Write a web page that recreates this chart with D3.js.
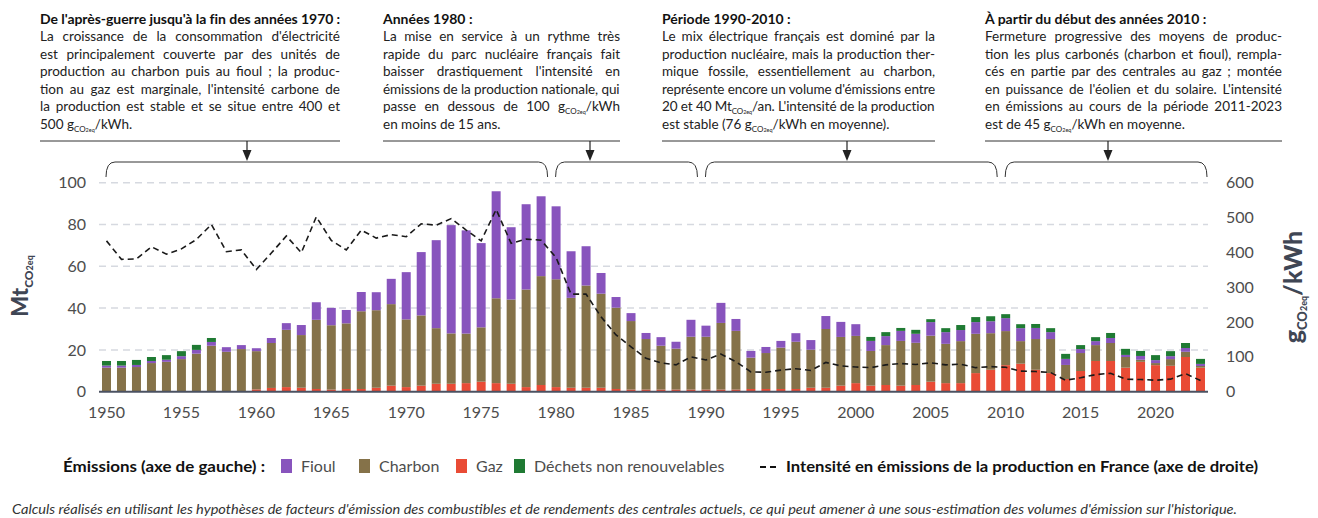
<!DOCTYPE html>
<html>
<head>
<meta charset="utf-8">
<script src="https://cdn.jsdelivr.net/npm/d3@7"></script>
<style>
  body { margin: 0; background: #fff; }
  svg { display: block; font-family: Lato, "Noto Sans", sans-serif; }
</style>
</head>
<body>
<div id="chart-area"></div>
<script>
// Emissions du parc électrique français (Mt CO2eq) et intensité (g CO2eq/kWh)
var annees = d3.range(1950, 2024);

var gaz = [0,0,0,0,0,0,0,0,0,0.3,1.1,1.8,2.2,1.9,1.3,
  1.0,1.3,1.3,1.9,2.9,2.2,2.9,3.8,3.8,4.1,4.8,4.1,3.8,2.2,3.2,
  2.2,1.9,1.9,1.9,1.3,1.0,1.0,1.0,1.0,1.0,1.0,1.0,1.0,1.3,1.3,
  1.3,1.3,1.9,1.9,2.9,4.1,2.9,3.2,2.9,3.2,4.8,4.1,4.1,8.9,10.5,
  12.7,13.4,10.5,8.9,6.1,9.9,14.7,14.7,11.5,14.3,12.7,12.4,16.6,11.5];

var charbon = [11.5,11.5,11.8,13.7,14.3,15.6,18.2,22.0,19.1,20.1,18.3,21.5,27.4,25.2,33.1,
  30.8,31.4,37.2,37.1,39.0,32.4,33.6,26.6,24.1,23.7,26.0,40.6,40.3,46.7,52.1,
  51.6,43.0,48.9,45.0,38.9,32.8,24.2,21.0,19.6,25.3,25.3,31.9,28.1,15.0,17.2,
  19.8,22.6,18.2,28.1,23.3,22.6,16.6,19.1,21.4,20.2,22.0,18.8,20.1,18.8,17.5,
  16.3,10.8,14.7,16.3,6.7,8.6,7.6,8.6,5.1,1.0,1.0,3.2,2.5,0.8];

var fioul = [1.0,1.0,1.0,1.0,1.0,1.4,1.8,1.8,2.2,1.9,1.4,2.4,3.2,4.8,8.4,
  8.3,6.4,9.2,8.6,12.1,22.6,30.3,42.1,51.8,49.4,40.3,51.2,34.6,40.8,38.2,
  34.9,22.3,18.8,9.9,5.1,3.8,2.9,4.1,3.3,8.1,5.3,9.6,5.7,3.2,2.9,
  3.2,4.1,4.6,6.2,7.2,5.6,4.8,4.3,4.8,4.3,6.5,5.6,5.3,5.6,5.7,
  6.2,6.2,5.3,3.3,2.9,1.9,1.9,2.4,1.0,1.8,1.4,1.4,1.8,1.0];

var dechets = [2.2,2.2,2.4,1.9,2.2,2.4,2.4,1.9,0,0,0,0,0,0,0,
  0,0,0,0,0,0,0,0,0,0,0,0,0,0,0,
  0,0,0,0,0,0,0,0,0,0,0,0,0,0,0,
  0,0,0,0,0,0,1.9,1.9,1.4,1.9,1.4,1.9,2.4,2.4,2.4,
  1.9,1.9,1.9,1.9,2.4,1.9,1.9,2.4,2.9,2.4,2.4,2.4,2.4,2.4];

var intensite = [433,380,381,416,395,410,437,480,402,407,351,398,447,399,502,
  434,407,464,441,451,445,482,478,497,464,433,523,426,438,435,
  385,280,280,215,163,129,96,83,77,100,91,108,86,57,56,
  62,66,61,84,74,71,69,77,81,78,83,77,79,69,72,
  70,59,58,55,33,40,49,53,36,35,33,36,52,32];

var ticksGauche = [0, 20, 40, 60, 80, 100];
var ticksDroite = [0, 100, 200, 300, 400, 500, 600];
var ticksAnnees = [1950, 1955, 1960, 1965, 1970, 1975, 1980, 1985, 1990, 1995, 2000, 2005, 2010, 2015, 2020];

var series = ["gaz", "charbon", "fioul", "dechets"];
var couleurs = { gaz: "#e94b35", charbon: "#857249", fioul: "#8854bd", dechets: "#1f7a33" };

var blocs = [
  { x: 40, w: 300, fleche: 247, debut: 1950, fin: 1979,
    titre: "De l'après-guerre jusqu'à la fin des années 1970 :",
    lignes: ["La croissance de la consommation d'électricité",
             "est principalement couverte par des unités de",
             "production au charbon puis au fioul ; la produc-",
             "tion au gaz est marginale, l'intensité carbone de",
             "la production est stable et se situe entre 400 et",
             "500 g{}/kWh."] },
  { x: 383, w: 237, fleche: 590, debut: 1980, fin: 1989,
    titre: "Années 1980 :",
    lignes: ["La mise en service à un rythme très",
             "rapide du parc nucléaire français fait",
             "baisser drastiquement l'intensité en",
             "émissions de la production nationale, qui",
             "passe en dessous de 100 g{}/kWh",
             "en moins de 15 ans."] },
  { x: 662, w: 273, fleche: 847, debut: 1990, fin: 2009,
    titre: "Période 1990-2010 :",
    lignes: ["Le mix électrique français est dominé par la",
             "production nucléaire, mais la production ther-",
             "mique fossile, essentiellement au charbon,",
             "représente encore un volume d'émissions entre",
             "20 et 40 Mt{}/an. L'intensité de la production",
             "est stable (76 g{}/kWh en moyenne)."] },
  { x: 985, w: 297, fleche: 1108, debut: 2010, fin: 2023,
    titre: "À partir du début des années 2010 :",
    lignes: ["Fermeture progressive des moyens de produc-",
             "tion les plus carbonés (charbon et fioul), rempla-",
             "cés en partie par des centrales au gaz ; montée",
             "en puissance de l'éolien et du solaire. L'intensité",
             "en émissions au cours de la période 2011-2023",
             "est de 45 g{}/kWh en moyenne."] }
];

var width = 1318, height = 518;

var svg = d3.select("#chart-area")
  .append("svg")
    .attr("width", width)
    .attr("height", height);

var x = d3.scaleBand()
  .domain(annees)
  .range([99, 1208])
  .paddingInner(0.4)
  .paddingOuter(0.2);

var yL = d3.scaleLinear().domain([0, 100]).range([391.7, 182.7]);
var yR = d3.scaleLinear().domain([0, 600]).range([391.7, 182.7]);

// grille
svg.append("g")
  .selectAll("line")
  .data(ticksGauche.slice(1))
  .enter().append("line")
    .attr("x1", 99).attr("x2", 1208)
    .attr("y1", function(d) { return yL(d); })
    .attr("y2", function(d) { return yL(d); })
    .attr("stroke", "#d6d9e0")
    .attr("stroke-width", 1.5)
    .attr("stroke-dasharray", "7,5");

// barres empilées
var table = annees.map(function(a, i) {
  return { annee: a, gaz: gaz[i], charbon: charbon[i], fioul: fioul[i], dechets: dechets[i] };
});
var empile = d3.stack().keys(series)(table);

svg.append("g")
  .selectAll("g")
  .data(empile)
  .enter().append("g")
    .attr("fill", function(d) { return couleurs[d.key]; })
  .selectAll("rect")
  .data(function(d) { return d; })
  .enter().append("rect")
    .attr("x", function(d) { return x(d.data.annee); })
    .attr("width", x.bandwidth())
    .attr("y", function(d) { return yL(d[1]); })
    .attr("height", function(d) { return yL(d[0]) - yL(d[1]); });

// ligne de base
svg.append("line")
  .attr("x1", 99).attr("x2", 1208)
  .attr("y1", yL(0)).attr("y2", yL(0))
  .attr("stroke", "#4b5262")
  .attr("stroke-width", 2);

// intensité
var ligneIntensite = d3.line()
  .x(function(d, i) { return x(annees[i]) + x.bandwidth() / 2; })
  .y(function(d) { return yR(d); });

svg.append("path")
  .datum(intensite)
  .attr("d", ligneIntensite)
  .attr("fill", "none")
  .attr("stroke", "#1a1a1a")
  .attr("stroke-width", 1.6)
  .attr("stroke-dasharray", "6,4");

// axes
function styleAxe(g) {
  g.select(".domain").remove();
  g.selectAll("text")
    .attr("font-family", "Lato, sans-serif")
    .attr("font-size", "16px")
    .attr("fill", "#4d4d4d");
}

svg.append("g")
  .attr("transform", "translate(0," + yL(0) + ")")
  .call(d3.axisBottom(x).tickValues(ticksAnnees).tickSize(0).tickPadding(15))
  .call(styleAxe);

svg.append("g")
  .attr("transform", "translate(99,0)")
  .call(d3.axisLeft(yL).tickValues(ticksGauche).tickSize(0).tickPadding(13))
  .call(styleAxe);

svg.append("g")
  .attr("transform", "translate(1208,0)")
  .call(d3.axisRight(yR).tickValues(ticksDroite).tickSize(0).tickPadding(18))
  .call(styleAxe);

// titres des axes
var tg = svg.append("text")
  .attr("transform", "translate(28,286) rotate(-90)")
  .attr("text-anchor", "middle")
  .attr("font-weight", "900")
  .attr("font-size", "22px")
  .attr("fill", "#3f4654");
tg.append("tspan").text("Mt");
tg.append("tspan").attr("dy", 5).attr("font-size", "12px").text("CO");
tg.append("tspan").attr("font-size", "9px").text("2eq");

var td = svg.append("text")
  .attr("transform", "translate(1302,287) rotate(-90)")
  .attr("text-anchor", "middle")
  .attr("font-weight", "900")
  .attr("font-size", "25px")
  .attr("fill", "#3f4654");
td.append("tspan").text("g");
td.append("tspan").attr("dy", 5).attr("font-size", "13px").text("CO");
td.append("tspan").attr("font-size", "9px").text("2eq");
td.append("tspan").attr("dy", -5).text("/kWh");

// annotations
function ligneTexte(g, txt, xx, yy, w, justifier) {
  var t = g.append("text")
    .attr("x", xx).attr("y", yy)
    .attr("font-size", "13.5px")
    .attr("fill", "#222");
  var morceaux = txt.split("{}");
  morceaux.forEach(function(m, k) {
    var s = t.append("tspan").text(m);
    if (k > 0) s.attr("dy", -3);
    if (k < morceaux.length - 1) {
      t.append("tspan").attr("dy", 3).attr("font-size", "8px").text("CO");
      t.append("tspan").attr("font-size", "5.5px").text("2eq");
    }
  });
  var len = t.node().getComputedTextLength();
  var espaces = txt.split(" ").length - 1;
  if (len > w) {
    t.attr("letter-spacing", (w - len) / txt.length);
  } else if (justifier && espaces > 0) {
    t.attr("word-spacing", (w - len) / espaces);
  }
  return t;
}

var annot = svg.append("g");
blocs.forEach(function(b) {
  var g = annot.append("g");
  var tt = g.append("text")
    .attr("x", b.x).attr("y", 24)
    .attr("font-size", "14px")
    .attr("font-weight", "bold")
    .attr("fill", "#111")
    .text(b.titre);
  var lt = tt.node().getComputedTextLength();
  if (lt > b.w) tt.attr("letter-spacing", (b.w - lt) / b.titre.length);

  b.lignes.forEach(function(l, i) {
    ligneTexte(g, l, b.x, 41 + i * 17.6, b.w, i < b.lignes.length - 1);
  });

  g.append("line")
    .attr("x1", b.x).attr("x2", b.x + b.w)
    .attr("y1", 141).attr("y2", 141)
    .attr("stroke", "#333").attr("stroke-width", 1);

  g.append("line")
    .attr("x1", b.fleche).attr("x2", b.fleche)
    .attr("y1", 141).attr("y2", 152)
    .attr("stroke", "#222").attr("stroke-width", 1.2);
  g.append("path")
    .attr("d", "M" + (b.fleche - 4.5) + ",150 L" + (b.fleche + 4.5) + ",150 L" + b.fleche + ",161 Z")
    .attr("fill", "#222");

  var x1 = x(b.debut) + 4, x2 = x(b.fin) + x.bandwidth() + 2, r = 9;
  g.append("path")
    .attr("d", "M" + x1 + ",177 Q" + x1 + ",162 " + (x1 + r) + ",162 L" + (x2 - r) + ",162 Q" + x2 + ",162 " + x2 + ",177")
    .attr("fill", "none")
    .attr("stroke", "#333")
    .attr("stroke-width", 1);
});

// légende
var leg = svg.append("g").attr("font-size", "16px");
leg.append("text")
  .attr("x", 63).attr("y", 472)
  .attr("font-weight", "bold").attr("fill", "#111")
  .attr("textLength", 202).attr("lengthAdjust", "spacingAndGlyphs")
  .text("Émissions (axe de gauche) :");

var legItems = [
  { cle: "fioul", nom: "Fioul", x: 281 },
  { cle: "charbon", nom: "Charbon", x: 359 },
  { cle: "gaz", nom: "Gaz", x: 456 },
  { cle: "dechets", nom: "Déchets non renouvelables", x: 514 }
];
legItems.forEach(function(d) {
  leg.append("rect")
    .attr("x", d.x).attr("y", 459)
    .attr("width", 11).attr("height", 14)
    .attr("fill", couleurs[d.cle]);
  leg.append("text")
    .attr("x", d.x + 20).attr("y", 472)
    .attr("fill", "#4d4d4d")
    .text(d.nom);
});

leg.append("line")
  .attr("x1", 760).attr("x2", 777)
  .attr("y1", 467).attr("y2", 467)
  .attr("stroke", "#111").attr("stroke-width", 2)
  .attr("stroke-dasharray", "6,4");

leg.append("text")
  .attr("x", 786).attr("y", 472)
  .attr("font-weight", "bold").attr("fill", "#111")
  .attr("textLength", 472).attr("lengthAdjust", "spacingAndGlyphs")
  .text("Intensité en émissions de la production en France (axe de droite)");

// note
svg.append("text")
  .attr("x", 12).attr("y", 514)
  .attr("font-size", "14px")
  .attr("font-style", "italic")
  .attr("fill", "#333")
  .attr("textLength", 1225).attr("lengthAdjust", "spacingAndGlyphs")
  .text("Calculs réalisés en utilisant les hypothèses de facteurs d'émission des combustibles et de rendements des centrales actuels, ce qui peut amener à une sous-estimation des volumes d'émission sur l'historique.");
</script>
</body>
</html>
